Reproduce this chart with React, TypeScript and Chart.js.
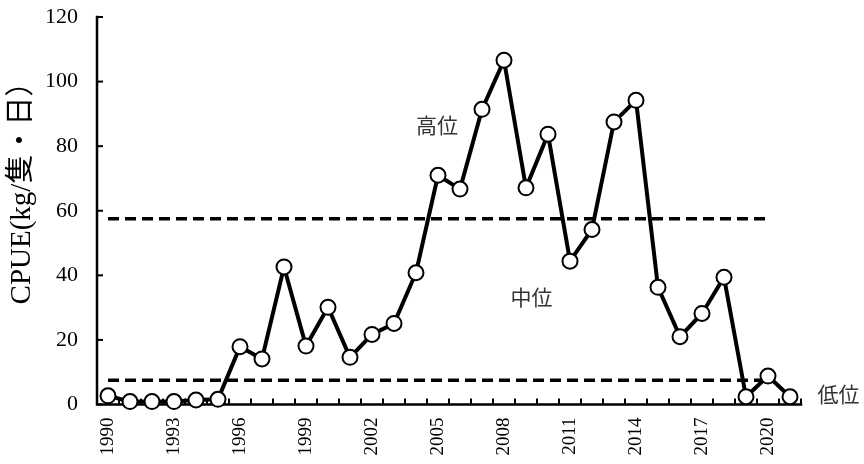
import React, { useEffect, useRef } from "react";
import { Chart, registerables } from "chart.js";

Chart.register(...registerables);

const YEARS = [
  "1990","1991","1992","1993","1994","1995","1996","1997","1998","1999",
  "2000","2001","2002","2003","2004","2005","2006","2007","2008","2009",
  "2010","2011","2012","2013","2014","2015","2016","2017","2018","2019",
  "2020","2021",
];

const CPUE = [
  2.7, 0.9, 0.9, 0.9, 1.4, 1.6, 17.9, 14.1, 42.6, 18.1,
  30.1, 14.6, 21.7, 25.1, 40.8, 71.0, 66.7, 91.4, 106.6, 67.1,
  83.7, 44.4, 54.2, 87.5, 94.2, 36.3, 21.0, 28.2, 39.4, 2.4,
  8.8, 2.4,
];

const Y_TICKS = [0, 20, 40, 60, 80, 100, 120];
const X_LABEL_EVERY = 3;

const HIGH_THRESHOLD = 57.5;
const LOW_THRESHOLD = 7.5;
const THRESHOLD_FROM = "1990";
const THRESHOLD_TO = "2020";

const ZONE_LABELS = ["高位", "中位", "低位"];
const ZONE_POS_X = [14.95, 19.25, 33.2];
const ZONE_POS_Y = [86.5, 33.3, 3.2];

const Y_TITLE = "CPUE(kg/隻・日）";

const customPlugin = {
  id: "custom",
  beforeDatasetsDraw(chart: any) {
    const { ctx, chartArea, scales } = chart;
    const x = scales.x;
    const y = scales.y;
    ctx.save();
    ctx.strokeStyle = "#000";
    ctx.lineWidth = 3.5;
    ctx.setLineDash([11, 6]);
    const x0 = x.getPixelForValue(YEARS.indexOf(THRESHOLD_FROM));
    const x1 = x.getPixelForValue(YEARS.indexOf(THRESHOLD_TO));
    [HIGH_THRESHOLD, LOW_THRESHOLD].forEach((v) => {
      const py = y.getPixelForValue(v);
      ctx.beginPath();
      ctx.moveTo(x0, py);
      ctx.lineTo(x1, py);
      ctx.stroke();
    });
    ctx.setLineDash([]);
    ctx.lineWidth = 2.5;
    ctx.lineCap = "square";
    ctx.beginPath();
    ctx.moveTo(chartArea.left, chartArea.top);
    ctx.lineTo(chartArea.left, chartArea.bottom);
    ctx.lineTo(chartArea.right, chartArea.bottom);
    ctx.stroke();
    ctx.lineCap = "butt";
    ctx.lineWidth = 2;
    Y_TICKS.forEach((v) => {
      const py = y.getPixelForValue(v);
      ctx.beginPath();
      ctx.moveTo(chartArea.left, py);
      ctx.lineTo(chartArea.left + 6, py);
      ctx.stroke();
    });
    const n = YEARS.length;
    const step = (chartArea.right - chartArea.left) / n;
    for (let k = 0; k <= n; k++) {
      const px = chartArea.left + k * step;
      ctx.beginPath();
      ctx.moveTo(px, chartArea.bottom);
      ctx.lineTo(px, chartArea.bottom - 6);
      ctx.stroke();
    }
    ctx.restore();
  },
  afterDraw(chart: any) {
    const { ctx, scales } = chart;
    ctx.save();
    ctx.fillStyle = "#333";
    ctx.font = '21px "Noto Sans CJK JP"';
    ctx.textAlign = "center";
    ctx.textBaseline = "middle";
    ZONE_LABELS.forEach((t, i) => {
      ctx.fillText(t, scales.x.getPixelForValue(ZONE_POS_X[i]), scales.y.getPixelForValue(ZONE_POS_Y[i]));
    });
    ctx.fillStyle = "#000";
    ctx.font = '29px "Liberation Serif", "Noto Sans CJK JP"';
    ctx.translate(22, 186);
    ctx.rotate(-Math.PI / 2);
    ctx.fillText(Y_TITLE, 0, 0);
    ctx.restore();
  },
};

export default function App() {
  const ref = useRef<HTMLCanvasElement | null>(null);
  useEffect(() => {
    if (!ref.current) return;
    const chart = new Chart(ref.current, {
      type: "line",
      data: {
        labels: YEARS,
        datasets: [
          {
            data: CPUE,
            borderColor: "#000",
            borderWidth: 4,
            pointRadius: 7.5,
            pointBorderWidth: 2,
            pointBackgroundColor: "#fff",
            pointBorderColor: "#000",
            tension: 0,
            clip: false,
          } as any,
        ],
      },
      options: {
        animation: false,
        responsive: true,
        maintainAspectRatio: false,
        layout: { padding: { top: 17, right: 63, bottom: 0, left: 0 } },
        plugins: { legend: { display: false }, tooltip: { enabled: false } },
        scales: {
          x: {
            type: "category",
            offset: true,
            grid: { display: false, drawTicks: false },
            border: { display: false },
            ticks: {
              autoSkip: false,
              maxRotation: 90,
              minRotation: 90,
              padding: 13,
              color: "#000",
              font: { family: "Liberation Serif", size: 19 },
              callback: (_v: any, i: number) => (i % X_LABEL_EVERY === 0 ? YEARS[i] : ""),
            },
            afterFit: (s: any) => {
              s.height = 59.5;
            },
          },
          y: {
            min: 0,
            max: 120,
            grid: { display: false, drawTicks: false },
            border: { display: false },
            ticks: {
              stepSize: 20,
              padding: 19,
              color: "#000",
              font: { family: "Liberation Serif", size: 22 },
            },
            afterFit: (s: any) => {
              s.width = 97;
              s.paddingTop = 0;
              s.paddingBottom = 0;
            },
          },
        },
      },
      plugins: [customPlugin],
    });
    return () => chart.destroy();
  }, []);
  return (
    <div style={{ position: "fixed", left: 0, top: 0, width: 864, height: 464, background: "#fff" }}>
      <canvas ref={ref} />
    </div>
  );
}
